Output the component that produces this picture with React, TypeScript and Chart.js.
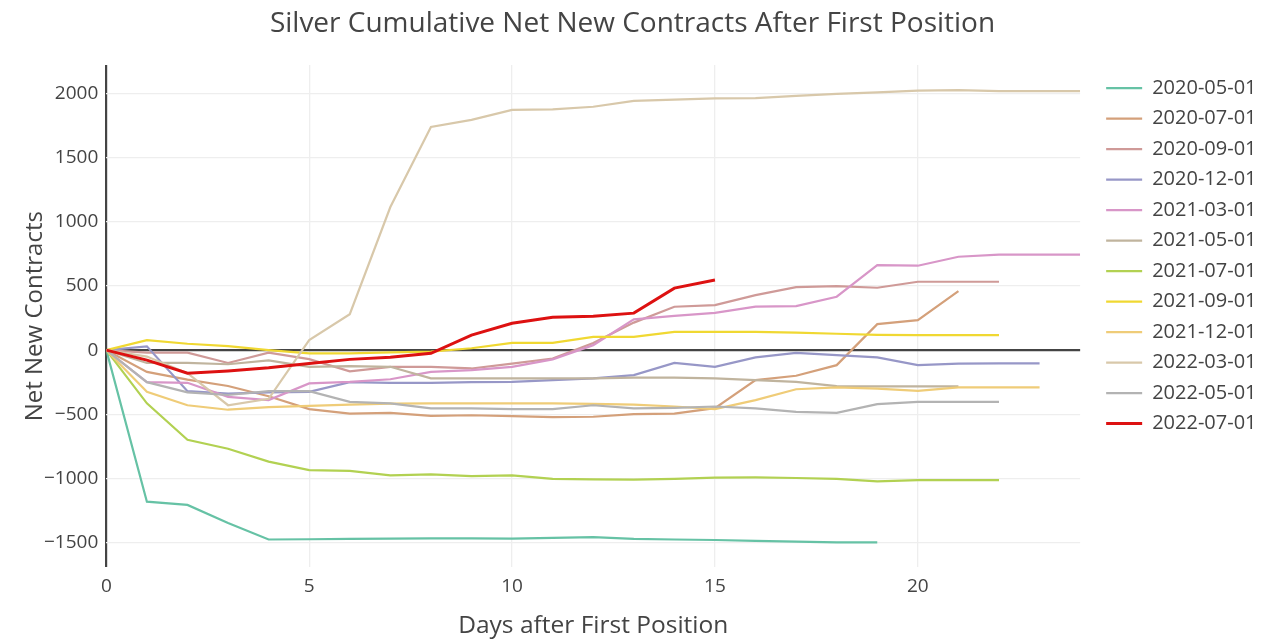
import React, { useEffect, useRef } from 'react';
import { Chart, registerables } from 'chart.js';

Chart.register(...registerables);

const seriesNames = [
  '2020-05-01', '2020-07-01', '2020-09-01', '2020-12-01', '2021-03-01', '2021-05-01',
  '2021-07-01', '2021-09-01', '2021-12-01', '2022-03-01', '2022-05-01', '2022-07-01',
];

const s20200501 = [0, -1183, -1208, -1350, -1478, -1476, -1473, -1471, -1469, -1469, -1471, -1465, -1460, -1473, -1478, -1482, -1488, -1494, -1500, -1500];
const s20200701 = [0, -170, -230, -280, -360, -460, -495, -490, -513, -508, -515, -523, -520, -500, -495, -453, -234, -200, -117, 203, 234, 461];
const s20200901 = [0, -20, -20, -100, -20, -70, -165, -130, -130, -143, -105, -65, 55, 215, 339, 352, 430, 492, 500, 487, 534, 534, 534];
const s20201201 = [0, 30, -320, -340, -330, -325, -250, -255, -255, -250, -247, -234, -220, -195, -100, -130, -56, -21, -39, -56, -117, -105, -103, -103];
const s20210301 = [0, -250, -255, -365, -390, -260, -248, -227, -170, -156, -130, -72, 39, 240, 268, 291, 339, 344, 417, 664, 659, 729, 745, 745, 745];
const s20210501 = [0, -100, -100, -110, -80, -130, -125, -130, -220, -220, -220, -220, -220, -215, -215, -220, -234, -248, -281, -283, -283, -283];
const s20210701 = [0, -415, -700, -770, -870, -937, -943, -977, -969, -984, -978, -1005, -1008, -1010, -1005, -995, -993, -998, -1005, -1025, -1015, -1015, -1015];
const s20210901 = [0, 78, 50, 31, 0, -25, -25, -18, -12, 15, 57, 57, 104, 104, 143, 143, 143, 137, 128, 120, 118, 118, 118];
const s20211201 = [0, -325, -430, -465, -445, -435, -425, -418, -415, -415, -415, -415, -420, -425, -440, -460, -390, -305, -290, -300, -318, -290, -290, -290];
const s20220301 = [0, -50, -180, -430, -380, 78, 281, 1117, 1742, 1797, 1875, 1880, 1900, 1945, 1955, 1966, 1967, 1985, 2000, 2012, 2025, 2030, 2022, 2022, 2022];
const s20220501 = [0, -250, -330, -350, -320, -320, -404, -415, -455, -455, -460, -460, -430, -455, -450, -440, -455, -482, -490, -422, -404, -404, -404];
const s20220701 = [0, -78, -180, -162, -138, -104, -72, -55, -25, 117, 210, 257, 265, 289, 484, 547];

const allSeries = [
  s20200501, s20200701, s20200901, s20201201, s20210301, s20210501,
  s20210701, s20210901, s20211201, s20220301, s20220501, s20220701,
];

const seriesColors = [
  '#66c2a5', '#d4a07a', '#cf9a98', '#9797c7', '#d896c8', '#c0b49e',
  '#b2d152', '#f0d832', '#efcc78', '#d8c8aa', '#b3b3b3', '#dd1111',
];

const xTickValues = [0, 5, 10, 15, 20];
const yTickValues = [-1500, -1000, -500, 0, 500, 1000, 1500, 2000];
const xRange = [0, 24];
const yRange = [-1695, 2225];

const FONT = '"Open Sans", "DejaVu Sans", sans-serif';
const TEXT = '#444';

const legendShift = {
  id: 'legendShift',
  afterLayout(chart: any) {
    const lg = chart.legend;
    if (lg) {
      lg.left += 15.5;
      lg.right += 15.5;
      lg.top += 2.5;
      lg.bottom += 2.5;
    }
  },
};

export default function App() {
  const ref = useRef<HTMLCanvasElement>(null);

  useEffect(() => {
    if (!ref.current) return;
    const datasets = allSeries.map((vals, i) => ({
      label: seriesNames[i],
      data: vals.map((y, x) => ({ x, y })),
      borderColor: seriesColors[i],
      backgroundColor: seriesColors[i],
      borderWidth: i === 11 ? 3 : 2.2,
      pointRadius: 0,
      pointHoverRadius: 0,
      tension: 0,
      fill: false,
      order: allSeries.length - i,
    }));

    const gridColor = (ctx: any) => (ctx.tick && ctx.tick.value === 0 ? '#444' : '#eeeeee');
    const gridWidth = (ctx: any) => (ctx.tick && ctx.tick.value === 0 ? 2.2 : 1.3);
    const fmt = (v: any) => String(v).replace('-', '\u2212');

    const chart = new Chart(ref.current, {
      type: 'line',
      data: { datasets },
      plugins: [legendShift],
      options: {
        responsive: false,
        animation: false,
        devicePixelRatio: 1,
        layout: { padding: { left: 14, right: 29, top: 0, bottom: 0 } },
        plugins: {
          title: {
            display: true,
            text: 'Silver Cumulative Net New Contracts After First Position',
            font: { family: FONT, size: 28, weight: 'normal' },
            color: TEXT,
            padding: { top: 7, bottom: 24.5 },
          },
          legend: {
            position: 'right',
            align: 'start',
            fullSize: false,
            labels: {
              usePointStyle: true,
              pointStyle: 'line',
              pointStyleWidth: 36,
              font: { family: FONT, size: 20 },
              color: TEXT,
              padding: 10.5,
              sort: (a: any, b: any) => a.datasetIndex - b.datasetIndex,
            },
          },
          tooltip: { enabled: false },
        },
        scales: {
          x: {
            type: 'linear',
            min: xRange[0],
            max: xRange[1],
            afterBuildTicks: (axis: any) => {
              axis.ticks = xTickValues.map((value) => ({ value }));
            },
            ticks: {
              font: { family: FONT, size: 19 },
              color: TEXT,
              padding: 8,
              callback: fmt,
            },
            grid: { color: gridColor, lineWidth: gridWidth, drawTicks: false },
            border: { display: false },
            title: {
              display: true,
              text: 'Days after First Position',
              font: { family: FONT, size: 24.5 },
              color: TEXT,
              padding: { top: 5.5, bottom: 0 },
            },
          },
          y: {
            type: 'linear',
            min: yRange[0],
            max: yRange[1],
            afterBuildTicks: (axis: any) => {
              axis.ticks = yTickValues.map((value) => ({ value }));
            },
            ticks: {
              font: { family: FONT, size: 19 },
              color: TEXT,
              padding: 8,
              callback: fmt,
            },
            grid: { color: gridColor, lineWidth: gridWidth, drawTicks: false },
            border: { display: false },
            title: {
              display: true,
              text: 'Net New Contracts',
              font: { family: FONT, size: 24, lineHeight: 1 },
              color: TEXT,
              padding: { top: 9, bottom: -11 },
            },
          },
        },
      },
    } as any);
    return () => chart.destroy();
  }, []);

  return (
    <div style={{ position: 'absolute', left: 0, top: 0, width: 1280, height: 641, background: '#fff' }}>
      <canvas ref={ref} width={1280} height={641} style={{ display: 'block' }} />
    </div>
  );
}
